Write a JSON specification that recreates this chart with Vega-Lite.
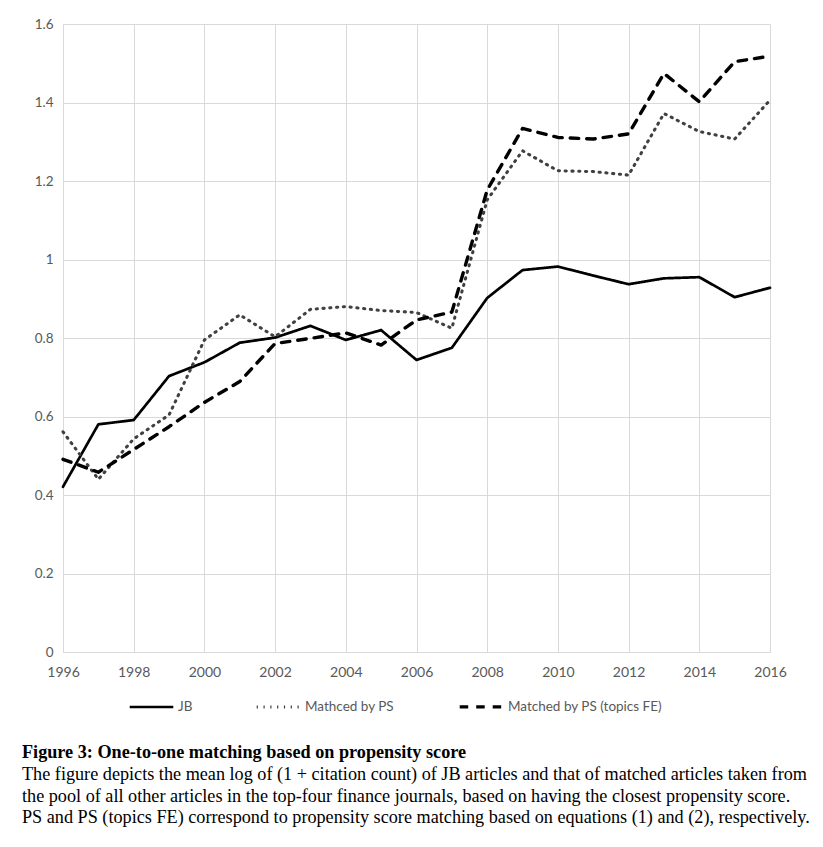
{
  "$schema": "https://vega.github.io/schema/vega-lite/v6.json",
  "width": 707,
  "height": 628,
  "autosize": {"type": "none"},
  "padding": {"left": 63, "top": 24, "right": 53, "bottom": 195},
  "background": "white",
  "title": {
    "text": "Figure 3: One-to-one matching based on propensity score",
    "subtitle": [
      "The figure depicts the mean log of (1 + citation count) of JB articles and that of matched articles taken from",
      "the pool of all other articles in the top-four finance journals, based on having the closest propensity score.",
      "PS and PS (topics FE) correspond to propensity score matching based on equations (1) and (2), respectively."
    ],
    "orient": "bottom",
    "anchor": "start",
    "frame": "group",
    "dx": -41,
    "offset": 30,
    "font": "Liberation Serif",
    "fontSize": 18.2,
    "fontWeight": "bold",
    "color": "#000000",
    "subtitleFont": "Liberation Serif",
    "subtitleFontSize": 18.2,
    "subtitleColor": "#000000",
    "subtitleLineHeight": 21.5,
    "subtitlePadding": 4
  },
  "data": {
    "values": [
      {"year": 1996, "series": "JB", "value": 0.421},
      {"year": 1997, "series": "JB", "value": 0.580},
      {"year": 1998, "series": "JB", "value": 0.591},
      {"year": 1999, "series": "JB", "value": 0.703},
      {"year": 2000, "series": "JB", "value": 0.738},
      {"year": 2001, "series": "JB", "value": 0.788},
      {"year": 2002, "series": "JB", "value": 0.801},
      {"year": 2003, "series": "JB", "value": 0.831},
      {"year": 2004, "series": "JB", "value": 0.795},
      {"year": 2005, "series": "JB", "value": 0.820},
      {"year": 2006, "series": "JB", "value": 0.744},
      {"year": 2007, "series": "JB", "value": 0.775},
      {"year": 2008, "series": "JB", "value": 0.902},
      {"year": 2009, "series": "JB", "value": 0.973},
      {"year": 2010, "series": "JB", "value": 0.982},
      {"year": 2011, "series": "JB", "value": 0.959},
      {"year": 2012, "series": "JB", "value": 0.937},
      {"year": 2013, "series": "JB", "value": 0.952},
      {"year": 2014, "series": "JB", "value": 0.955},
      {"year": 2015, "series": "JB", "value": 0.904},
      {"year": 2016, "series": "JB", "value": 0.928},
      {"year": 1996, "series": "Mathced by PS", "value": 0.561},
      {"year": 1997, "series": "Mathced by PS", "value": 0.440},
      {"year": 1998, "series": "Mathced by PS", "value": 0.543},
      {"year": 1999, "series": "Mathced by PS", "value": 0.604},
      {"year": 2000, "series": "Mathced by PS", "value": 0.795},
      {"year": 2001, "series": "Mathced by PS", "value": 0.859},
      {"year": 2002, "series": "Mathced by PS", "value": 0.803},
      {"year": 2003, "series": "Mathced by PS", "value": 0.873},
      {"year": 2004, "series": "Mathced by PS", "value": 0.880},
      {"year": 2005, "series": "Mathced by PS", "value": 0.870},
      {"year": 2006, "series": "Mathced by PS", "value": 0.865},
      {"year": 2007, "series": "Mathced by PS", "value": 0.825},
      {"year": 2008, "series": "Mathced by PS", "value": 1.152},
      {"year": 2009, "series": "Mathced by PS", "value": 1.277},
      {"year": 2010, "series": "Mathced by PS", "value": 1.226},
      {"year": 2011, "series": "Mathced by PS", "value": 1.224},
      {"year": 2012, "series": "Mathced by PS", "value": 1.215},
      {"year": 2013, "series": "Mathced by PS", "value": 1.372},
      {"year": 2014, "series": "Mathced by PS", "value": 1.326},
      {"year": 2015, "series": "Mathced by PS", "value": 1.307},
      {"year": 2016, "series": "Mathced by PS", "value": 1.406},
      {"year": 1996, "series": "Matched by PS (topics FE)", "value": 0.491},
      {"year": 1997, "series": "Matched by PS (topics FE)", "value": 0.458},
      {"year": 1998, "series": "Matched by PS (topics FE)", "value": 0.516},
      {"year": 1999, "series": "Matched by PS (topics FE)", "value": 0.574},
      {"year": 2000, "series": "Matched by PS (topics FE)", "value": 0.636},
      {"year": 2001, "series": "Matched by PS (topics FE)", "value": 0.689},
      {"year": 2002, "series": "Matched by PS (topics FE)", "value": 0.786},
      {"year": 2003, "series": "Matched by PS (topics FE)", "value": 0.799},
      {"year": 2004, "series": "Matched by PS (topics FE)", "value": 0.813},
      {"year": 2005, "series": "Matched by PS (topics FE)", "value": 0.782},
      {"year": 2006, "series": "Matched by PS (topics FE)", "value": 0.846},
      {"year": 2007, "series": "Matched by PS (topics FE)", "value": 0.866},
      {"year": 2008, "series": "Matched by PS (topics FE)", "value": 1.177},
      {"year": 2009, "series": "Matched by PS (topics FE)", "value": 1.334},
      {"year": 2010, "series": "Matched by PS (topics FE)", "value": 1.311},
      {"year": 2011, "series": "Matched by PS (topics FE)", "value": 1.307},
      {"year": 2012, "series": "Matched by PS (topics FE)", "value": 1.320},
      {"year": 2013, "series": "Matched by PS (topics FE)", "value": 1.474},
      {"year": 2014, "series": "Matched by PS (topics FE)", "value": 1.402},
      {"year": 2015, "series": "Matched by PS (topics FE)", "value": 1.504},
      {"year": 2016, "series": "Matched by PS (topics FE)", "value": 1.518}
    ]
  },
  "mark": {"type": "line", "strokeCap": "round", "strokeJoin": "round"},
  "encoding": {
    "x": {
      "field": "year",
      "type": "quantitative",
      "scale": {"domain": [1996, 2016], "nice": false, "zero": false},
      "axis": {
        "title": null,
        "values": [1996, 1998, 2000, 2002, 2004, 2006, 2008, 2010, 2012, 2014, 2016],
        "format": "d",
        "ticks": false,
        "domain": true,
        "domainColor": "#d9d9d9",
        "domainWidth": 1,
        "grid": true,
        "gridColor": "#d9d9d9",
        "gridWidth": 1,
        "labelFont": "Lato",
        "labelFontSize": 14,
        "labelColor": "#595959",
        "labelPadding": 13,
        "labelFlush": false,
        "labelBound": false,
        "labelOverlap": false
      }
    },
    "y": {
      "field": "value",
      "type": "quantitative",
      "scale": {"domain": [0, 1.6], "nice": false},
      "axis": {
        "title": null,
        "values": [0, 0.2, 0.4, 0.6, 0.8, 1, 1.2, 1.4, 1.6],
        "format": "~g",
        "ticks": false,
        "domain": false,
        "grid": true,
        "gridColor": "#d9d9d9",
        "gridWidth": 1,
        "labelFont": "Lato",
        "labelFontSize": 13.5,
        "labelColor": "#595959",
        "labelPadding": 10
      }
    },
    "color": {
      "field": "series",
      "type": "nominal",
      "scale": {
        "domain": ["JB", "Mathced by PS", "Matched by PS (topics FE)"],
        "range": ["#000000", "#404040", "#000000"]
      },
      "legend": {
        "title": null,
        "orient": "none",
        "legendX": 65,
        "legendY": 659,
        "direction": "horizontal",
        "labelFont": "Lato",
        "labelFontSize": 13.5,
        "labelColor": "#595959",
        "symbolSize": 1900,
        "labelOffset": 3,
        "columnPadding": 57
      }
    },
    "strokeDash": {
      "field": "series",
      "type": "nominal",
      "scale": {
        "domain": ["JB", "Mathced by PS", "Matched by PS (topics FE)"],
        "range": [[1, 0], [1.2, 5.6], [8.5, 8]]
      }
    },
    "strokeWidth": {
      "field": "series",
      "type": "nominal",
      "scale": {
        "domain": ["JB", "Mathced by PS", "Matched by PS (topics FE)"],
        "range": [2.7, 3.4, 2.7]
      }
    }
  },
  "config": {
    "view": {"stroke": null}
  }
}
